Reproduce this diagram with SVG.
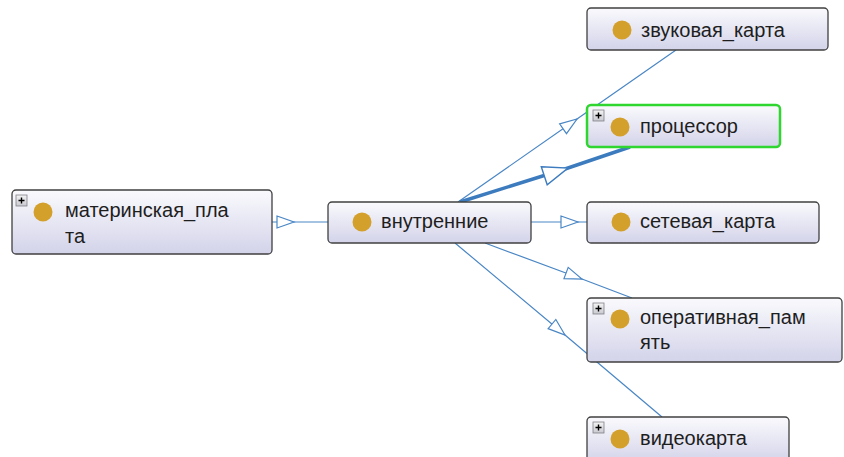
<svg xmlns="http://www.w3.org/2000/svg" width="844" height="457" viewBox="0 0 844 457">
<defs>
<linearGradient id="nodeFill" x1="0" y1="0" x2="0" y2="1">
<stop offset="0" stop-color="#fafafd"/>
<stop offset="1" stop-color="#d3d3ea"/>
</linearGradient>
<linearGradient id="plusFill" x1="0" y1="0" x2="0" y2="1">
<stop offset="0" stop-color="#f4f4f4"/>
<stop offset="1" stop-color="#c8c8d0"/>
</linearGradient>
<marker id="arrow" markerUnits="userSpaceOnUse" viewBox="-1 -8 20 16" markerWidth="20" markerHeight="16" refX="17" refY="0" orient="auto">
<path d="M0,-6 L17,0 L0,6 Z" fill="#ffffff" stroke="#4a86c5" stroke-width="1.2"/>
</marker>
<marker id="arrowThick" markerUnits="userSpaceOnUse" viewBox="-2 -11 29 22" markerWidth="29" markerHeight="22" refX="25" refY="0" orient="auto">
<path d="M0,-9.5 L25,0 L0,9.5 Z" fill="#ffffff" stroke="#3d7bbf" stroke-width="1.4"/>
</marker>
<g id="plus">
<rect x="0" y="0" width="11" height="11" fill="url(#plusFill)" stroke="#808088" stroke-width="0.8"/>
<path d="M2.5,5.5 H8.5 M5.5,2.5 V8.5" stroke="#000" stroke-width="1.4"/>
</g>
</defs>
<style>
.edge{fill:none;stroke:#4a86c5;stroke-width:1.2;marker-mid:url(#arrow)}
.thick{fill:none;stroke:#3d7bbf;stroke-width:3.5;marker-mid:url(#arrowThick)}
.box{fill:url(#nodeFill);stroke:#404040;stroke-width:1.3}
.sel{fill:url(#nodeFill);stroke:#2fd62f;stroke-width:2.5}
.dot{fill:#d4a02c}
.lbl{font-family:"Liberation Sans",Arial,sans-serif;font-size:20px;fill:#1e1e1e}
</style>
<rect width="844" height="457" fill="#ffffff"/>
<g id="connectors">
<path class="edge" d="M272,222 L294,222 L329,222"/>
<path class="edge" d="M531,222 L578,222 L587,222"/>
<path class="edge" d="M458,202 L577,119 L676,50"/>
<path class="thick" d="M460,202 L568,168 L630,147"/>
<path class="edge" d="M485,243 L582,279 L632,298"/>
<path class="edge" d="M455,243 L565,335 L662,417"/>
</g>
<g id="materinskaya_plata">
<rect class="box" x="12" y="190" width="260" height="64" rx="4"/>
<use href="#plus" x="16" y="195"/>
<circle class="dot" cx="43" cy="212" r="9.5"/>
<text class="lbl" x="65" y="217">материнская_пла</text>
<text class="lbl" x="65" y="243">та</text>
</g>
<g id="vnutrennie">
<rect class="box" x="328" y="202" width="203" height="41" rx="4"/>
<circle class="dot" cx="362" cy="222" r="9.5"/>
<text class="lbl" x="381" y="228">внутренние</text>
</g>
<g id="zvukovaya_karta">
<rect class="box" x="587" y="8" width="241" height="42" rx="4"/>
<circle class="dot" cx="622" cy="30" r="9.5"/>
<text class="lbl" x="641" y="37">звуковая_карта</text>
</g>
<g id="protsessor">
<rect class="sel" x="587" y="105" width="193" height="42" rx="4"/>
<use href="#plus" x="593" y="110"/>
<circle class="dot" cx="620" cy="127" r="9.5"/>
<text class="lbl" x="640" y="133">процессор</text>
</g>
<g id="setevaya_karta">
<rect class="box" x="587" y="202" width="232" height="41" rx="4"/>
<circle class="dot" cx="621" cy="222" r="9.5"/>
<text class="lbl" x="640" y="228">сетевая_карта</text>
</g>
<g id="operativnaya_pamyat">
<rect class="box" x="587" y="298" width="255" height="64" rx="4"/>
<use href="#plus" x="593" y="303"/>
<circle class="dot" cx="620" cy="319" r="9.5"/>
<text class="lbl" x="640" y="324">оперативная_пам</text>
<text class="lbl" x="640" y="349">ять</text>
</g>
<g id="videokarta">
<rect class="box" x="587" y="417" width="202" height="46" rx="4"/>
<use href="#plus" x="593" y="422"/>
<circle class="dot" cx="620" cy="439" r="9.5"/>
<text class="lbl" x="640" y="445">видеокарта</text>
</g>
</svg>
